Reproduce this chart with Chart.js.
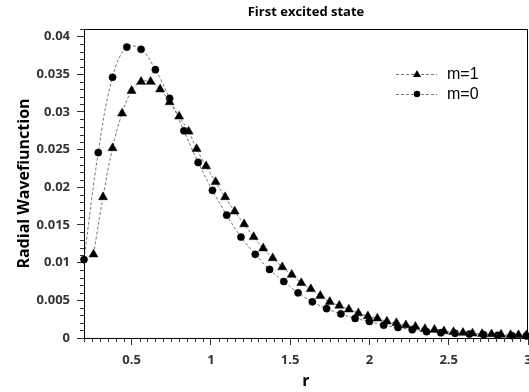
<!DOCTYPE html>
<html>
<head>
<meta charset="utf-8">
<script src="https://cdn.jsdelivr.net/npm/chart.js@4.4.0/dist/chart.umd.min.js"></script>
<style>
  html, body { margin: 0; padding: 0; background: #fff; }
</style>
</head>
<body>
<canvas id="chart" width="529" height="392"></canvas>
<script>
// m=0 series (circles)
const rM0 = [0.2, 0.29, 0.38, 0.47, 0.56, 0.65, 0.74, 0.83, 0.92, 1.01, 1.10, 1.19, 1.28, 1.37, 1.46, 1.55,
  1.64, 1.73, 1.82, 1.91, 2.00, 2.09, 2.18, 2.27, 2.36, 2.45, 2.54, 2.63, 2.72, 2.81, 2.90, 2.99];
const waveM0 = [0.0104, 0.0246, 0.0346, 0.0386, 0.0383, 0.0356, 0.0318, 0.0275, 0.0233, 0.0196, 0.0163, 0.0134,
  0.0111, 0.0091, 0.0075, 0.0060, 0.0048, 0.0039, 0.0032, 0.0026, 0.0022, 0.0017, 0.0014, 0.0011,
  0.00084, 0.0007, 0.00062, 0.00053, 0.00044, 0.00036, 0.0003, 0.00027];

// m=1 series (triangles)
const rM1 = [0.26, 0.32, 0.38, 0.44, 0.50, 0.56, 0.62, 0.68, 0.74, 0.80, 0.86, 0.91, 0.97, 1.03, 1.09, 1.15,
  1.21, 1.27, 1.33, 1.39, 1.45, 1.51, 1.57, 1.63, 1.69, 1.75, 1.81, 1.87, 1.93, 1.99, 2.05, 2.11,
  2.17, 2.23, 2.29, 2.35, 2.41, 2.47, 2.53, 2.59, 2.65, 2.71, 2.77, 2.83, 2.89, 2.94, 2.99];
const waveM1 = [0.0111, 0.0187, 0.0252, 0.0298, 0.0328, 0.0340, 0.0340, 0.0330, 0.0313, 0.0294,
  0.0274, 0.0251, 0.0228, 0.0207, 0.0187, 0.0168, 0.0151, 0.0134, 0.0119, 0.0106,
  0.0094, 0.0084, 0.0073, 0.0065, 0.0056, 0.0048, 0.0043, 0.0038, 0.0033, 0.0029,
  0.0026, 0.0022, 0.0020, 0.0017, 0.0015, 0.0012, 0.0011, 0.0009, 0.0008, 0.0007,
  0.00062, 0.00055, 0.0005, 0.00046, 0.00042, 0.0004, 0.00038];

const xTicks = [0.5, 1, 1.5, 2, 2.5, 3];
const yTicks = [0, 0.005, 0.01, 0.015, 0.02, 0.025, 0.03, 0.035, 0.04];

const tickFont = { family: "'Open Sans'", size: 13, weight: 'bold' };

// title, legend, frame and minor ticks
const decor = {
  id: 'decor',
  afterDraw(chart) {
    const ctx = chart.ctx;
    const area = chart.chartArea;
    const xs = chart.scales.x, ys = chart.scales.y;
    ctx.save();
    // frame top / right
    ctx.strokeStyle = '#000';
    ctx.lineWidth = 1;
    ctx.beginPath();
    ctx.moveTo(area.left, area.top + 0.5);
    ctx.lineTo(area.right - 0.5, area.top + 0.5);
    ctx.lineTo(area.right - 0.5, area.bottom);
    ctx.stroke();

    // minor ticks
    ctx.strokeStyle = '#333';
    ctx.beginPath();
    for (let i = 4; i <= 60; i++) {
      const v = i * 0.05;
      if (i % 10 === 0) continue;
      const px = Math.round(xs.getPixelForValue(v)) + 0.5;
      ctx.moveTo(px, area.bottom);
      ctx.lineTo(px, area.bottom + 4);
    }
    for (let i = 1; i <= 41; i++) {
      if (i % 5 === 0) continue;
      const py = Math.round(ys.getPixelForValue(i * 0.001)) + 0.5;
      ctx.moveTo(area.left, py);
      ctx.lineTo(area.left - 4, py);
    }
    ctx.stroke();

    // title
    ctx.fillStyle = '#000';
    ctx.font = "bold 13px 'Open Sans'";
    ctx.textAlign = 'center';
    ctx.textBaseline = 'middle';
    ctx.fillText('First excited state', (area.left + area.right) / 2, 12);

    // legend
    const items = [
      { label: 'm=1', y: 74, style: 'triangle' },
      { label: 'm=0', y: 94, style: 'circle' }
    ];
    items.forEach(it => {
      ctx.strokeStyle = '#555';
      ctx.lineWidth = 0.8;
      ctx.setLineDash([3, 2]);
      ctx.beginPath();
      ctx.moveTo(396, it.y + 0.5);
      ctx.lineTo(437, it.y + 0.5);
      ctx.stroke();
      ctx.setLineDash([]);
      ctx.fillStyle = '#000';
      ctx.beginPath();
      if (it.style === 'triangle') {
        ctx.moveTo(417, it.y - 4);
        ctx.lineTo(421, it.y + 3);
        ctx.lineTo(413, it.y + 3);
        ctx.closePath();
      } else {
        ctx.arc(417, it.y, 3.2, 0, Math.PI * 2);
      }
      ctx.fill();
      ctx.font = "16px 'Liberation Sans'";
      ctx.textAlign = 'left';
      ctx.fillText(it.label, 447, it.y + 1);
    });
    ctx.restore();
  }
};

const chartRef = document.getElementById('chart');

let myChart = new Chart(chartRef, {
  type: 'scatter',
  data: {
    datasets: [
      {
        label: 'm=1',
        data: rM1.map((r, i) => ({ x: r, y: waveM1[i] })),
        showLine: true,
        tension: 0.4,
        borderColor: '#555',
        borderWidth: 0.8,
        borderDash: [3, 2],
        pointStyle: 'triangle',
        pointRadius: 5.2,
        pointBackgroundColor: '#000',
        pointBorderColor: '#000',
        pointBorderWidth: 0.5,
        clip: false
      },
      {
        label: 'm=0',
        data: rM0.map((r, i) => ({ x: r, y: waveM0[i] })),
        showLine: true,
        tension: 0.4,
        borderColor: '#555',
        borderWidth: 0.8,
        borderDash: [3, 2],
        pointStyle: 'circle',
        pointRadius: 3.6,
        pointBackgroundColor: '#000',
        pointBorderColor: '#000',
        pointBorderWidth: 0.5,
        clip: false
      }
    ]
  },
  options: {
    responsive: false,
    animation: false,
    layout: { autoPadding: false, padding: { top: 29, right: 1, left: 0, bottom: 0 } },
    plugins: {
      legend: { display: false },
      tooltip: { enabled: false },
      title: { display: false }
    },
    scales: {
      x: {
        type: 'linear',
        min: 0.2,
        max: 3,
        afterBuildTicks: s => { s.ticks = xTicks.map(v => ({ value: v })); },
        afterFit: s => { s.height = 54; s.paddingLeft = 0; s.paddingRight = 0; },
        ticks: { font: tickFont, color: '#333', padding: 7, maxRotation: 0, callback: v => String(v) },
        grid: { drawOnChartArea: false, tickLength: 7, tickColor: '#333' },
        border: { color: '#000', width: 1 },
        title: { display: true, text: 'r', color: '#000', font: { family: "'Open Sans'", size: 16, weight: 'bold' }, padding: { top: 0, bottom: 1 } }
      },
      y: {
        type: 'linear',
        min: 0,
        max: 0.041,
        afterBuildTicks: s => { s.ticks = yTicks.map(v => ({ value: v })); },
        afterFit: s => { s.width = 84; s.paddingTop = 0; s.paddingBottom = 0; },
        ticks: { font: tickFont, color: '#333', padding: 7, callback: v => String(v) },
        grid: { drawOnChartArea: false, tickLength: 7, tickColor: '#333' },
        border: { color: '#000', width: 1 },
        title: { display: true, text: 'Radial Wavefiunction', color: '#000', font: { family: "'Open Sans'", size: 16, weight: 'bold' }, padding: { top: 15, bottom: 0 } }
      }
    }
  },
  plugins: [decor]
});
</script>
</body>
</html>
